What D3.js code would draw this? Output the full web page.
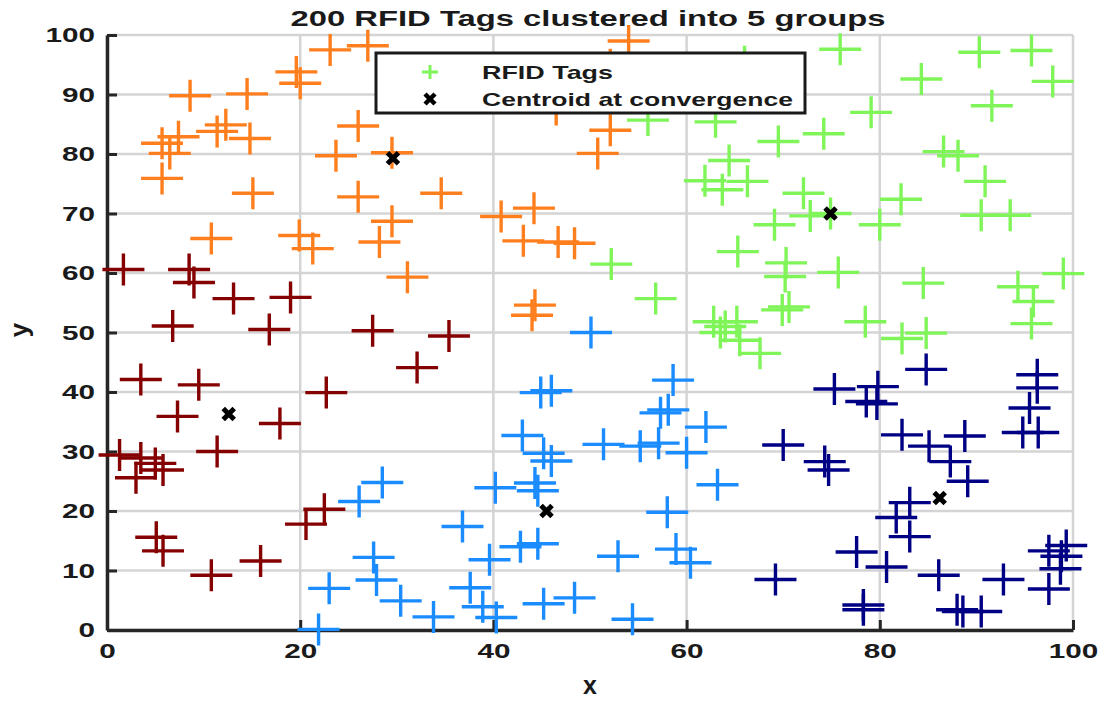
<!DOCTYPE html>
<html>
<head>
<meta charset="utf-8">
<script src="https://cdn.jsdelivr.net/npm/d3@7"></script>
<style>
  body { margin: 0; background: #fff; }
  text { font-family: "Liberation Sans", Arial, sans-serif; font-weight: bold; fill: #1a1a1a; }
</style>
</head>
<body>
<div id="chart"></div>
<script>
// tag positions per cluster, [x, y]
var orangeTags = [[23.1,97.5],[27.0,98.2],[19.6,93.8],[20.0,91.9],[8.6,89.8],[14.5,90.1],
  [5.7,81.8],[6.5,80.1],[7.4,82.9],[5.7,75.9],[11.4,83.8],[12.3,84.9],[14.8,82.6],[15.1,73.4],
  [10.8,65.8],[19.9,66.3],[21.3,64.1],[26.0,84.7],[23.7,79.7],[29.5,80.2],[26.0,72.8],[29.5,68.7],
  [28.2,65.2],[31.1,59.3],[54.0,99.0],[52.1,95.0],[46.5,87.5],[52.1,84.0],[50.8,80.1],[34.6,73.4],
  [40.8,69.5],[44.2,70.9],[43.1,65.4],[46.7,65.2],[48.4,65.0],[44.3,54.6],[44.0,52.9]];

var redTags = [[1.7,60.6],[8.5,60.6],[9.0,58.4],[13.1,55.7],[19.0,55.9],[6.8,51.1],[16.8,50.5],
  [27.5,50.3],[35.4,49.4],[32.1,44.1],[3.5,42.1],[9.5,41.2],[22.7,39.9],[7.3,35.9],[17.9,34.7],
  [11.4,30.0],[1.3,29.4],[3.5,28.9],[3.0,25.6],[5.0,28.0],[5.8,26.9],[22.5,20.3],[20.6,17.8],
  [5.1,15.6],[5.8,13.3],[10.8,9.2],[15.9,11.6]];

var blueTags = [[28.5,24.8],[26.1,21.6],[27.6,12.2],[27.9,8.4],[23.0,7.0],[30.4,4.9],[21.9,0.1],
  [50.1,50.0],[44.9,39.9],[46.0,40.2],[58.6,42.0],[57.3,36.5],[58.1,37.0],[62.0,34.1],[43.0,32.7],
  [51.4,31.2],[55.2,30.9],[57.1,31.4],[60.0,29.8],[45.2,29.7],[46.0,28.4],[44.3,24.7],[44.6,23.4],
  [40.2,23.9],[63.2,24.4],[58.0,19.8],[36.8,17.4],[42.8,14.0],[44.6,14.5],[39.6,11.8],[52.9,12.4],
  [58.9,13.6],[60.4,11.3],[37.6,7.1],[38.9,3.9],[40.3,2.1],[33.8,2.2],[45.2,4.4],[48.4,5.4],[54.4,1.8]];

var navyTags = [[84.8,43.8],[96.3,42.9],[96.3,40.7],[95.5,37.3],[94.8,33.2],[96.4,33.2],[75.3,40.5],
  [79.8,40.9],[78.6,38.4],[79.7,38.0],[70.0,31.1],[74.3,28.3],[74.7,26.9],[82.3,32.8],[85.1,30.9],
  [88.8,32.6],[87.3,28.3],[89.1,25.0],[83.1,21.4],[81.7,18.9],[83.1,15.7],[77.6,13.1],[80.7,10.6],
  [69.2,8.5],[86.1,9.2],[92.8,8.5],[97.5,6.9],[78.3,4.2],[78.3,3.4],[88.0,3.4],[88.6,3.1],[90.5,3.1],
  [97.5,13.3],[99.3,14.2],[98.8,12.4],[98.7,10.3]];

var greenTags = [[56.0,85.7],[63.0,85.4],[66.0,95.5],[64.4,78.9],[61.9,75.5],[63.7,74.0],[66.3,75.4],
  [65.3,63.6],[52.2,61.5],[56.8,55.7],[62.8,51.8],[64.0,51.0],[65.2,51.8],[63.5,50.0],[65.5,48.7],
  [67.6,46.5],[75.9,97.6],[90.3,97.1],[95.7,97.4],[97.9,92.2],[84.3,92.6],[91.6,88.1],[79.1,87.0],
  [69.5,82.1],[74.2,83.4],[86.6,80.4],[88.1,79.7],[90.9,75.4],[72.1,73.4],[72.8,69.6],[74.9,70.0],
  [69.1,68.1],[80.0,68.1],[82.2,72.4],[90.5,69.7],[93.5,69.7],[70.3,61.7],[70.2,59.4],[75.7,60.1],
  [69.9,53.8],[70.6,54.3],[78.5,51.8],[84.5,58.3],[82.3,49.0],[84.8,49.9],[94.3,57.7],[95.9,55.2],
  [99.0,59.9],[95.7,51.5]];

var centroids = [[29.6,79.3],[12.6,36.3],[45.5,20.0],[74.9,70.0],[86.2,22.2]];

var groups = [orangeTags, redTags, blueTags, navyTags, greenTags];
var groupColors = ["#ff7f1f", "#850000", "#1a8cff", "#000085", "#80f55a"];

var xTicks = [0, 20, 40, 60, 80, 100];
var yTicks = [0, 10, 20, 30, 40, 50, 60, 70, 80, 90, 100];

var width = 1107, height = 701;
var svg = d3.select("#chart").append("svg")
  .attr("width", width)
  .attr("height", height);

svg.append("rect").attr("width", width).attr("height", height).attr("fill", "#fff");

var x = d3.scaleLinear().domain([0, 100]).range([107, 1073]);
var y = d3.scaleLinear().domain([0, 100]).range([630, 35]);

// grid
svg.append("g").selectAll("line").data(xTicks).enter().append("line")
  .attr("x1", function(d) { return x(d); }).attr("x2", function(d) { return x(d); })
  .attr("y1", y(0)).attr("y2", y(100))
  .attr("stroke", "#d4d4d4").attr("stroke-width", 2.5);
svg.append("g").selectAll("line").data(yTicks).enter().append("line")
  .attr("y1", function(d) { return y(d); }).attr("y2", function(d) { return y(d); })
  .attr("x1", x(0)).attr("x2", x(100))
  .attr("stroke", "#d4d4d4").attr("stroke-width", 2.5);

// axes
var xAxis = svg.append("g").attr("transform", "translate(0," + y(0) + ")")
  .call(d3.axisBottom(x).tickValues(xTicks).tickSize(-10).tickPadding(13).tickSizeOuter(0));
var yAxis = svg.append("g").attr("transform", "translate(" + x(0) + ",0)")
  .call(d3.axisLeft(y).tickValues(yTicks).tickSize(-10).tickPadding(12).tickSizeOuter(0));

[xAxis, yAxis].forEach(function(a) {
  a.select(".domain").attr("stroke", "#262626").attr("stroke-width", 3.5);
  a.selectAll(".tick line").attr("stroke", "#262626").attr("stroke-width", 3);
  a.selectAll(".tick text")
    .style("font-size", "21px")
    .attr("fill", "#262626")
    .attr("textLength", function(d) { return String(d).length * 16.5; })
    .attr("lengthAdjust", "spacingAndGlyphs");
});

// tags
groups.forEach(function(g, i) {
  svg.append("g").selectAll("path").data(g).enter().append("path")
    .attr("d", function(d) {
      var cx = x(d[0]), cy = y(d[1]);
      return "M" + (cx - 21) + "," + cy + "H" + (cx + 21) + "M" + cx + "," + (cy - 16) + "V" + (cy + 16);
    })
    .attr("stroke", groupColors[i])
    .attr("stroke-width", 3.4)
    .attr("fill", "none");
});

// centroids
function xMark(sel, s) {
  sel.attr("d", function(d) {
      var cx = x(d[0]), cy = y(d[1]);
      return "M" + (cx - s) + "," + (cy - s) + "L" + (cx + s) + "," + (cy + s) +
             "M" + (cx - s) + "," + (cy + s) + "L" + (cx + s) + "," + (cy - s);
    })
    .attr("stroke", "#000").attr("stroke-width", 5).attr("fill", "none");
}
svg.append("g").selectAll("path").data(centroids).enter().append("path").call(xMark, 5.5);

// legend
var leg = svg.append("g");
leg.append("rect").attr("x", 376).attr("y", 53).attr("width", 429).attr("height", 60)
  .attr("fill", "#fff").attr("stroke", "#1a1a1a").attr("stroke-width", 3);
leg.append("path").attr("d", "M422,72H438M430,65V79")
  .attr("stroke", "#80f55a").attr("stroke-width", 3);
leg.append("path").attr("d", "M425,94L435,104M425,104L435,94")
  .attr("stroke", "#000").attr("stroke-width", 4.5);
leg.append("text").attr("x", 482).attr("y", 79).style("font-size", "19px")
  .attr("textLength", 131).attr("lengthAdjust", "spacingAndGlyphs").text("RFID Tags");
leg.append("text").attr("x", 482).attr("y", 106).style("font-size", "19px")
  .attr("textLength", 311).attr("lengthAdjust", "spacingAndGlyphs").text("Centroid at convergence");

// titles
svg.append("text").attr("x", 588).attr("y", 26).attr("text-anchor", "middle")
  .style("font-size", "22px").attr("textLength", 595).attr("lengthAdjust", "spacingAndGlyphs")
  .text("200 RFID Tags clustered into 5 groups");
svg.append("text").attr("x", 590).attr("y", 694).attr("text-anchor", "middle")
  .style("font-size", "25px").attr("fill", "#262626").text("x");
svg.append("text").attr("transform", "translate(28,330) rotate(-90)").attr("text-anchor", "middle")
  .style("font-size", "26px").attr("fill", "#262626").text("y");
</script>
</body>
</html>
